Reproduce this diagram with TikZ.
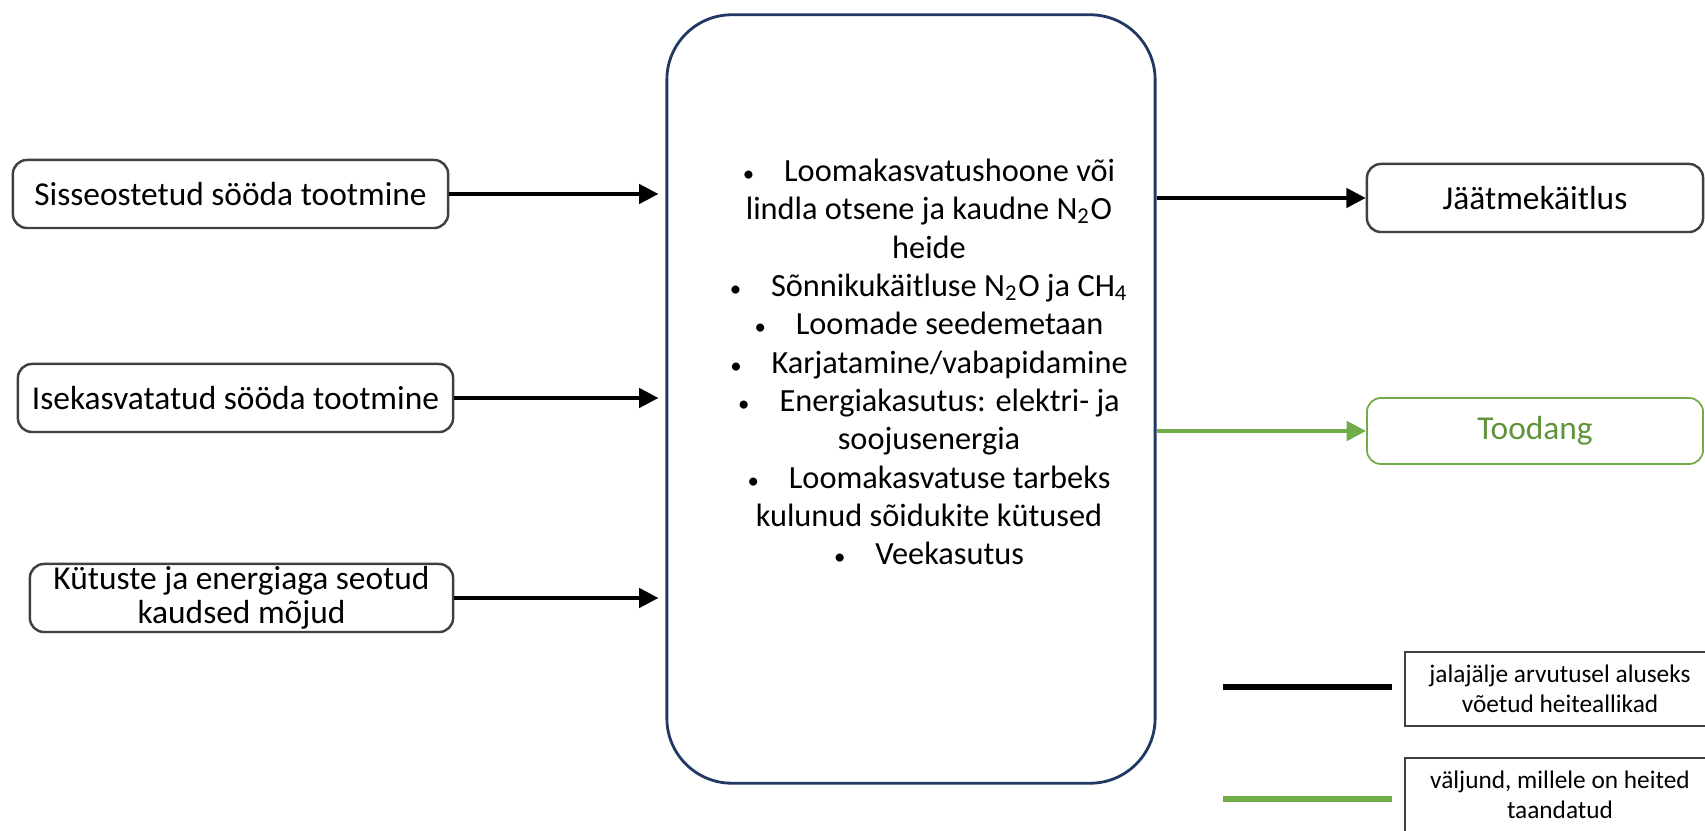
\documentclass[tikz,border=0pt]{standalone}
\usepackage{fontspec}
\setmainfont{Carlito}
\usetikzlibrary{arrows.meta}
\definecolor{mynavy}{RGB}{32,56,100}
\definecolor{mygreen}{RGB}{112,173,71}
\definecolor{mygray}{RGB}{64,64,64}

\tikzset{
  srcbox/.style={draw=mygray, line width=0.7pt, rounded corners=4pt, minimum height=0.68cm,
    inner sep=0pt, align=center, font=\fontsize{9.5}{9.7}\selectfont},
  flow/.style={-{Triangle[length=5.5pt,width=5.5pt]}, line width=1.05pt},
  legline/.style={line width=1.8pt},
  legbox/.style={draw=mygray, line width=0.5pt, minimum width=3.1cm, minimum height=0.74cm,
    inner sep=0pt, align=center, font=\fontsize{7.2}{8.6}\selectfont}
}
\newcommand{\itm}{{\fontsize{6.5}{6.5}\selectfont\textbullet}\hspace{8.5pt}}

\begin{document}
\begin{tikzpicture}[x=0.01cm, y=-0.01cm]
    \useasboundingbox (0,0) rectangle (1705,831);
    % Central block with the emission sources
    \node[draw=mynavy, line width=0.8pt, rounded corners=0.65cm, minimum width=4.88cm,
      minimum height=7.68cm] (core) at (911,399) {};
    \node[align=center, font=\fontsize{9.2}{10.9}\selectfont] (list) at (929,362) {%
      \itm Loomakasvatushoone või\\
      lindla otsene ja kaudne N\textsubscript{2}O\\
      heide\\
      \itm Sõnnikukäitluse N\textsubscript{2}O ja CH\textsubscript{4}\\
      \itm Loomade seedemetaan\\
      \itm Karjatamine/vabapidamine\\
      \itm Energiakasutus: elektri- ja\\
      soojusenergia\\
      \itm Loomakasvatuse tarbeks\\
      kulunud sõidukite kütused\\
      \itm Veekasutus};
    % Input boxes
    \node[srcbox, minimum width=4.35cm] (sisse) at (230.5,194) {Sisseostetud sööda tootmine};
    \node[srcbox, minimum width=4.35cm] (ise) at (235.5,398) {Isekasvatatud sööda tootmine};
    \node[srcbox, minimum width=4.23cm] (kytus) at (241.5,598) {Kütuste ja energiaga seotud\\kaudsed mõjud};
    % Output boxes
    \node[srcbox, minimum width=3.36cm] (jaatme) at (1535,198) {Jäätmekäitlus};
    \node[srcbox, draw=mygreen, text=mygreen!85!black, line width=0.5pt, minimum width=3.36cm,
      minimum height=0.66cm] (toodang) at (1535,431) {Toodang};
    % Input arrows
    \draw[flow] (sisse.east) -- ([xshift=-2pt]sisse.east -| core.west);
    \draw[flow] (ise.east) -- ([xshift=-2pt]ise.east -| core.west);
    \draw[flow] (kytus.east) -- ([xshift=-2pt]kytus.east -| core.west);
    % Output arrows
    \draw[flow] (core.east |- jaatme.west) -- (jaatme.west);
    \draw[flow, mygreen] (core.east |- toodang.west) -- (toodang.west);
    % Legend
    \node[legbox] (legmust) at (1560,689) {jalajälje arvutusel aluseks\\võetud heiteallikad};
    \node[legbox] (legroheline) at (1560,795) {väljund, millele on heited\\taandatud};
    \coordinate (mustalgus) at (1223,687);
    \coordinate (rohealgus) at (1223,799);
    \draw[legline] (mustalgus) -- ++(169,0);
    \draw[legline, mygreen] (rohealgus) -- ++(169,0);
\end{tikzpicture}
\end{document}
